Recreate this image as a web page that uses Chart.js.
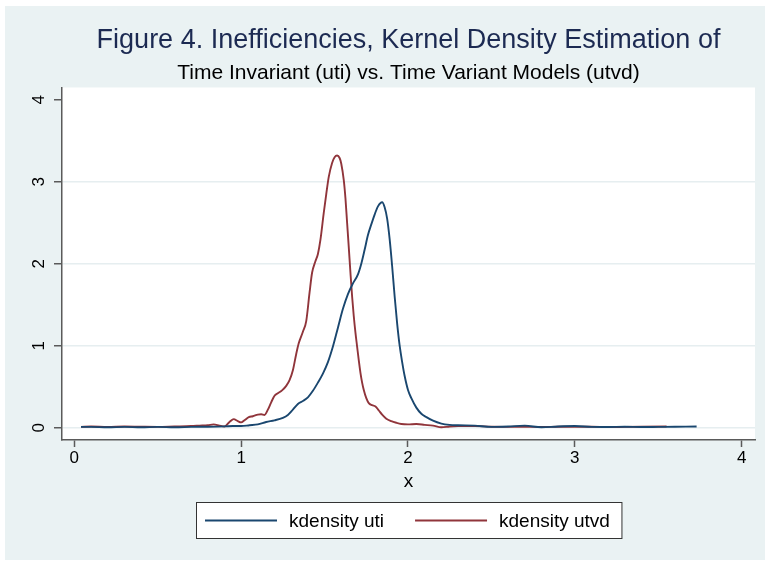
<!DOCTYPE html>
<html>
<head>
<meta charset="utf-8">
<script src="https://cdn.jsdelivr.net/npm/chart.js@4.4.1/dist/chart.umd.min.js"></script>
<style>
  html, body { margin: 0; padding: 0; background: #ffffff; }
  #wrap { width: 765px; height: 561px; position: relative; }
</style>
</head>
<body>
<div id="wrap"><canvas id="c"></canvas></div>
<script>
// ---- Data ----
const xTicks = [0, 1, 2, 3, 4];
const yTicks = [0, 1, 2, 3, 4];

const seriesLabels = ['kdensity uti', 'kdensity utvd'];

const utiX = [0.04,0.1,0.2,0.3,0.4,0.5,0.6,0.7,0.8,0.9,0.95,1.0,1.05,1.1,1.15,1.2,1.25,1.28,1.31,1.34,1.37,1.4,1.43,1.46,1.49,1.52,1.55,1.58,1.61,1.64,1.67,1.70,1.72,1.74,1.76,1.78,1.80,1.82,1.845,1.86,1.875,1.89,1.905,1.92,1.935,1.95,1.965,1.98,2.0,2.02,2.05,2.08,2.11,2.15,2.2,2.25,2.3,2.4,2.5,2.6,2.7,2.8,2.9,3.0,3.1,3.2,3.3,3.4,3.5,3.6,3.73];
const utiY = [0.01,0.01,0.005,0.01,0.005,0.01,0.005,0.01,0.012,0.016,0.02,0.02,0.03,0.04,0.07,0.09,0.12,0.155,0.22,0.29,0.325,0.37,0.45,0.55,0.66,0.80,0.99,1.22,1.45,1.63,1.76,1.87,2.0,2.17,2.35,2.48,2.6,2.7,2.75,2.69,2.55,2.3,1.97,1.6,1.27,1.0,0.8,0.63,0.46,0.36,0.245,0.17,0.13,0.085,0.05,0.035,0.03,0.025,0.01,0.015,0.025,0.005,0.015,0.02,0.01,0.008,0.012,0.008,0.01,0.012,0.015];

const utvdX = [0.04,0.1,0.2,0.3,0.4,0.5,0.6,0.7,0.75,0.8,0.835,0.87,0.9,0.93,0.955,0.98,1.0,1.02,1.046,1.07,1.1,1.12,1.14,1.16,1.18,1.2,1.22,1.245,1.27,1.29,1.31,1.33,1.345,1.37,1.39,1.41,1.425,1.445,1.46,1.475,1.495,1.51,1.525,1.545,1.56,1.575,1.59,1.6,1.615,1.625,1.635,1.645,1.655,1.665,1.675,1.685,1.695,1.705,1.715,1.725,1.735,1.75,1.765,1.785,1.805,1.825,1.845,1.87,1.9,1.93,1.96,2.0,2.05,2.1,2.15,2.2,2.25,2.3,2.4,2.5,2.6,2.7,2.8,2.9,3.0,3.1,3.2,3.3,3.4,3.55];
const utvdY = [0.01,0.015,0.01,0.015,0.012,0.01,0.015,0.02,0.025,0.03,0.04,0.025,0.015,0.07,0.105,0.08,0.065,0.09,0.13,0.14,0.16,0.165,0.155,0.22,0.31,0.39,0.42,0.455,0.51,0.58,0.7,0.9,1.03,1.17,1.3,1.65,1.89,2.03,2.12,2.29,2.62,2.85,3.06,3.23,3.3,3.32,3.29,3.22,3.02,2.8,2.5,2.2,1.89,1.6,1.36,1.16,0.99,0.82,0.67,0.55,0.46,0.36,0.3,0.275,0.26,0.21,0.16,0.11,0.08,0.06,0.045,0.04,0.045,0.035,0.025,0.005,0.015,0.02,0.02,0.012,0.01,0.012,0.008,0.012,0.01,0.012,0.008,0.01,0.012,0.015];

const FONT = '"Liberation Sans", Arial, Helvetica, sans-serif';
const BLUE = '#1a476f';
const RED = '#90353b';

const toPts = (xs, ys) => xs.map((x, i) => ({ x: x, y: ys[i] }));

const bgPlugin = {
  id: 'bgPlugin',
  beforeDraw(chart) {
    const { ctx, chartArea: a, width, height } = chart;
    ctx.save();
    ctx.fillStyle = '#ffffff';
    ctx.fillRect(0, 0, width, height);
    ctx.fillStyle = '#eaf2f3';
    ctx.fillRect(5, 6, width - 5, height - 7);
    ctx.fillStyle = '#ffffff';
    ctx.fillRect(a.left, a.top, a.right - a.left, a.bottom - a.top);
    ctx.restore();
  }
};

const legendPlugin = {
  id: 'legendPlugin',
  afterDraw(chart) {
    const { ctx, chartArea: a } = chart;
    const xs = chart.scales.x;
    ctx.save();
    ctx.font = '19px ' + FONT;
    const lineLen = 72, gap = 12, itemGap = 31, padL = 8.5, padR = 12;
    const items = chart.data.datasets.map(d => ({ label: d.label, color: d.borderColor, w: ctx.measureText(d.label).width }));
    let total = 0;
    items.forEach((it, i) => { total += lineLen + gap + it.w + (i ? itemGap : 0); });
    const boxW = total + padL + padR;
    const cx = (a.left + a.right) / 2;
    const left = Math.round(cx - boxW / 2) + 0.5;
    const top = Math.round(xs.bottom + 12) + 0.5;
    const h = 36;
    ctx.fillStyle = '#ffffff';
    ctx.fillRect(left, top, boxW, h);
    ctx.strokeStyle = '#333333';
    ctx.lineWidth = 1;
    ctx.strokeRect(left, top, boxW, h);
    const midY = top + h / 2;
    let x = left + padL;
    items.forEach((it, i) => {
      if (i) x += itemGap;
      ctx.strokeStyle = it.color;
      ctx.lineWidth = 1.8;
      ctx.beginPath();
      ctx.moveTo(x, midY);
      ctx.lineTo(x + lineLen, midY);
      ctx.stroke();
      x += lineLen + gap;
      ctx.fillStyle = '#000000';
      ctx.textBaseline = 'middle';
      ctx.textAlign = 'left';
      ctx.fillText(it.label, x, midY + 1);
      x += it.w;
    });
    ctx.restore();
  }
};

new Chart(document.getElementById('c'), {
  type: 'line',
  data: {
    datasets: [
      { label: seriesLabels[0], data: toPts(utiX, utiY), borderColor: BLUE, backgroundColor: BLUE, borderWidth: 1.9, pointRadius: 0, fill: false, cubicInterpolationMode: 'monotone' },
      { label: seriesLabels[1], data: toPts(utvdX, utvdY), borderColor: RED, backgroundColor: RED, borderWidth: 1.9, pointRadius: 0, fill: false, cubicInterpolationMode: 'monotone' }
    ]
  },
  options: {
    responsive: true,
    maintainAspectRatio: false,
    animation: false,
    layout: { padding: { top: 0, left: 0, right: 10, bottom: 71 } },
    plugins: {
      legend: { display: false },
      tooltip: { enabled: false },
      title: {
        display: true,
        fullSize: false,
        text: 'Figure 4. Inefficiencies, Kernel Density Estimation of',
        color: '#1c2a52',
        font: { family: FONT, size: 27, weight: 'normal', lineHeight: 1.2 },
        padding: { top: 24, bottom: 0 }
      },
      subtitle: {
        display: true,
        fullSize: false,
        text: 'Time Invariant (uti) vs. Time Variant Models (utvd)',
        color: '#000000',
        font: { family: FONT, size: 21, weight: 'normal', lineHeight: 1.2 },
        padding: { top: 4, bottom: 1.9 }
      }
    },
    scales: {
      x: {
        type: 'linear',
        min: -0.074,
        max: 4.08,
        afterBuildTicks: (s) => { s.ticks = xTicks.map(v => ({ value: v })); },
        afterFit: (s) => { s.height = 50; },
        grid: { drawOnChartArea: false, drawTicks: true, tickLength: 7, tickColor: '#5a5a5a', tickWidth: 1.5, color: '#5a5a5a' },
        border: { display: true, color: '#5a5a5a', width: 1.5 },
        ticks: { color: '#000000', padding: 1.5, maxRotation: 0, font: { family: FONT, size: 17 } },
        title: { display: true, text: 'x', color: '#000000', font: { family: FONT, size: 19 }, padding: { top: 0, bottom: -3 } }
      },
      y: {
        type: 'linear',
        min: -0.15,
        max: 4.15,
        afterBuildTicks: (s) => { s.ticks = yTicks.map(v => ({ value: v })); },
        afterFit: (s) => { s.width = 62; },
        grid: {
          drawOnChartArea: true,
          drawTicks: true,
          tickLength: 8,
          tickColor: '#5a5a5a',
          tickWidth: 1.5,
          lineWidth: 1.5,
          color: (c) => (c.tick && c.tick.value === 4) ? 'rgba(0,0,0,0)' : '#e6eef0'
        },
        border: { display: true, color: '#5a5a5a', width: 1.5 },
        ticks: { color: '#000000', padding: 9.5, minRotation: 90, maxRotation: 90, crossAlign: 'center', font: { family: FONT, size: 17 } }
      }
    }
  },
  plugins: [bgPlugin, legendPlugin]
});
</script>
</body>
</html>
